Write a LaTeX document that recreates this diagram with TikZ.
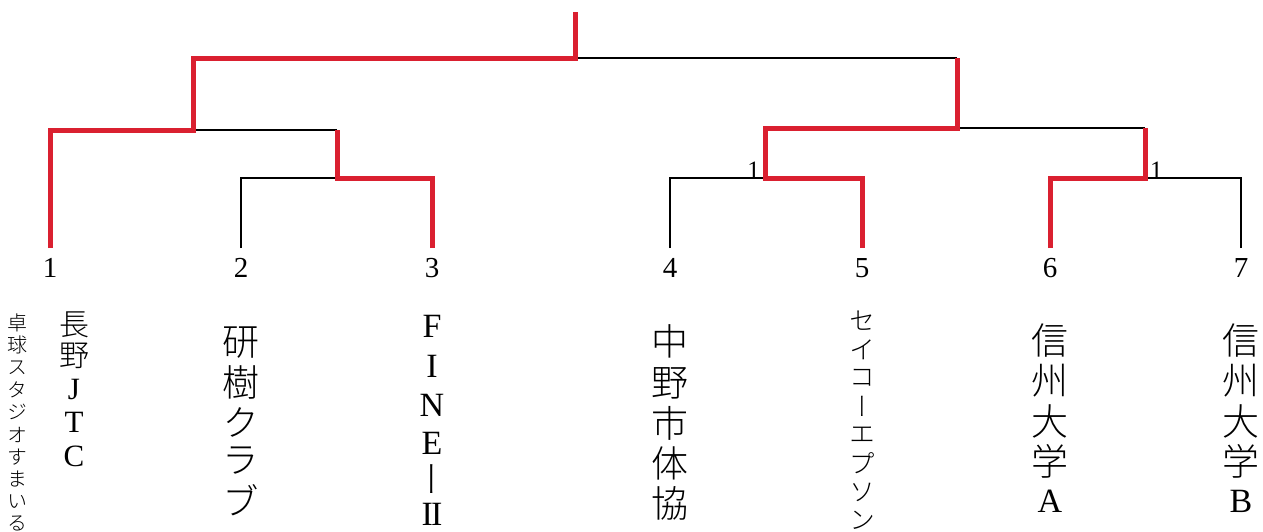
\documentclass[tikz,border=0pt]{standalone}
\usepackage{fontspec}
\newfontfamily\jp[RawFeature=+vert,UprightFont={* Light}]{Noto Sans CJK JP}
\newfontfamily\latf{Liberation Serif}
\definecolor{tred}{RGB}{218,32,48}

\begin{document}
\begin{tikzpicture}[x=1pt,y=-1pt,
  win/.style={draw=tred,line width=5pt},
  lose/.style={draw=black,line width=1.4pt},
  num/.style={font=\latf\fontsize{29}{29}\selectfont,inner sep=0pt},
  snum/.style={font=\latf\fontsize{25}{25}\selectfont,inner sep=0pt},
  jbig/.style={font=\jp\fontsize{37}{37}\selectfont,inner sep=0pt},
  jmid/.style={font=\jp\fontsize{30}{30}\selectfont,inner sep=0pt},
  jsmall/.style={font=\jp\fontsize{26}{26}\selectfont,inner sep=0pt},
  jtiny/.style={font=\jp\fontsize{20}{20}\selectfont,inner sep=0pt},
  lbig/.style={font=\latf\fontsize{34}{34}\selectfont,inner sep=0pt},
  lmid/.style={font=\latf\fontsize{31}{31}\selectfont,inner sep=0pt}]
 \useasboundingbox (0,0) rectangle (1263,531);

 % leaves and their numbers
 \foreach \n/\x in {1/50,2/241,3/432,4/670,5/862,6/1050,7/1241}{
   \coordinate (l\n) at (\x,248);
   \node[num] (n\n) at (\x,268) {\n};
 }

 % match points
 \coordinate (m23) at (337,178);
 \coordinate (m123) at (193,130);
 \coordinate (m45) at (765,178);
 \coordinate (m67) at (1145,178);
 \coordinate (m4567) at (957,128);
 \coordinate (fin) at (575,58);
 \coordinate (top) at (575,12);

 % losing lines
 \draw[lose] (l2) |- (m23);
 \draw[lose] (m123) -- (m23 |- m123);
 \draw[lose] (l4) |- (m45);
 \draw[lose] (l7) |- (m67);
 \draw[lose] (m4567) -- (m67 |- m4567);
 \draw[lose] (fin) -- (m4567 |- fin);

 % winning lines
 \draw[win] (l1) |- (m123) |- (fin) -- (top);
 \draw[win] (l3) |- (m23) -- (m23 |- m123);
 \draw[win] (l5) |- (m45) |- (m4567) -- (m4567 |- fin);
 \draw[win] (l6) |- (m67) -- (m67 |- m4567);

 % scores
 \node[snum,anchor=base east] (s45) at ([xshift=-5pt]m45) {1};
 \node[snum,anchor=base west] (s67) at ([xshift=5pt]m67) {1};

 % team names
 \foreach \c [count=\i from 0] in {卓,球,ス,タ,ジ,オ,す,ま,い,る}
   \node[jtiny] (a\i) at (18,323+22.3*\i) {\c};
 \node[jmid] (b0) at (74,325) {長};
 \node[jmid] (b1) at (74,356) {野};
 \foreach \c/\y [count=\i from 2] in {J/389,T/422,C/456}
   \node[lmid] (b\i) at (74,\y) {\c};
 \foreach \c/\y [count=\i from 0] in {研/343,樹/382,ク/422,ラ/461,ブ/500}
   \node[jbig] (c\i) at (241,\y) {\c};
 \foreach \c/\y [count=\i from 0] in {F/326,I/366,N/405,E/443}
   \node[lbig] (d\i) at (432,\y) {\c};
 \node[jbig] (d4) at (432,479) {ー};
 \node[lbig] (d5) at (432,514) {I\kern-0.06em I};
 \foreach \c/\y [count=\i from 0] in {中/341,野/383,市/423,体/463,協/503}
   \node[jbig] (e\i) at (670,\y) {\c};
 \foreach \c [count=\i from 0] in {セ,イ,コ,ー,エ,プ,ソ,ン}
   \node[jsmall] (f\i) at (862,321+28.5*\i) {\c};
 \foreach \c/\y [count=\i from 0] in {信/341,州/381,大/421,学/461}{
   \node[jbig] (g\i) at (1050,\y) {\c};
   \node[jbig] (h\i) at (1241,\y) {\c};
 }
 \node[lbig] (g4) at (1050,501) {A};
 \node[lbig] (h4) at (1241,501) {B};
\end{tikzpicture}
\end{document}
